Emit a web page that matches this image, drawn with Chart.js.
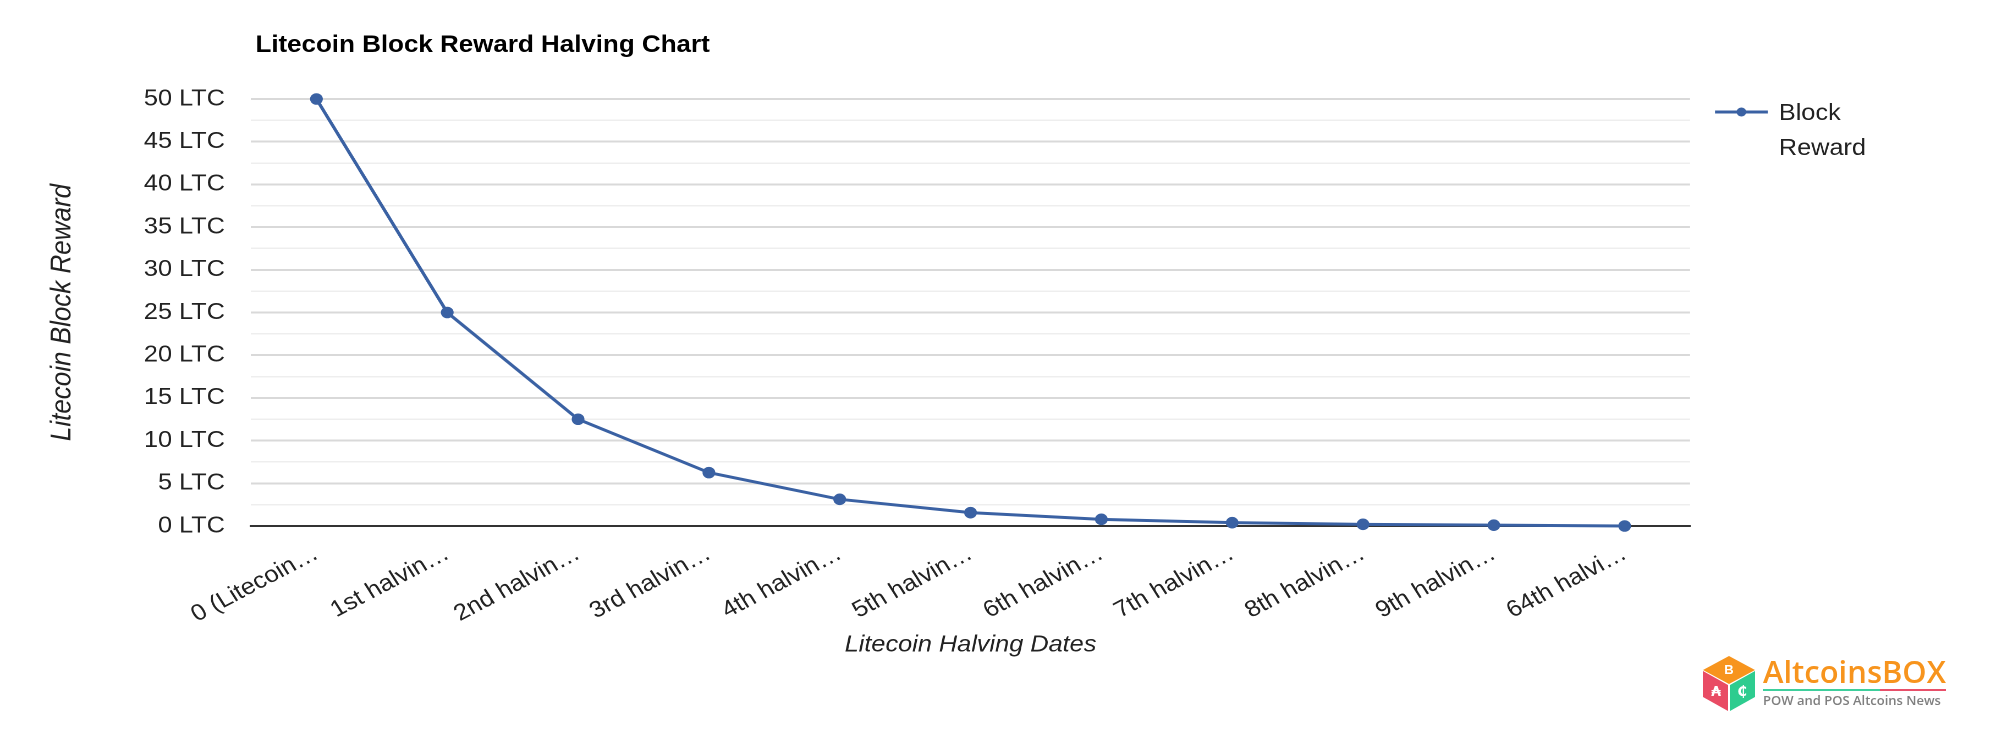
<!DOCTYPE html>
<html>
<head>
<meta charset="utf-8">
<script src="https://cdn.jsdelivr.net/npm/chart.js@4.4.1/dist/chart.umd.min.js"></script>
<style>
  html, body { margin: 0; padding: 0; background: #fff; }
  /* the source image is a little stretched sideways, so the chart is too */
  #wrap { position: absolute; left: 0; top: 0; width: 1818.18px; height: 741px; transform: scaleX(1.1); transform-origin: 0 0; }
  #logo { position: absolute; left: 1690px; top: 640px; }
</style>
</head>
<body>
<div id="wrap"><canvas id="halving"></canvas></div>
<canvas id="logo" width="270" height="90"></canvas>
<script>
const chartTitle = "Litecoin Block Reward Halving Chart";
const seriesName = "Block Reward";
const xAxisTitle = "Litecoin Halving Dates";
const yAxisTitle = "Litecoin Block Reward";

const halvings = [
  "0 (Litecoin\u2026", "1st halvin\u2026", "2nd halvin\u2026", "3rd halvin\u2026",
  "4th halvin\u2026", "5th halvin\u2026", "6th halvin\u2026", "7th halvin\u2026",
  "8th halvin\u2026", "9th halvin\u2026", "64th halvi\u2026"
];
const blockReward = [50, 25, 12.5, 6.25, 3.125, 1.5625, 0.78125, 0.390625, 0.1953125, 0.09765625, 0];
const rewardTicks = [0, 5, 10, 15, 20, 25, 30, 35, 40, 45, 50];

const lineColor = "#3a61a3";
const font = '"Liberation Sans", Arial, sans-serif';

// title top-left and a two-line legend on the right
const titleAndLegend = {
  id: "titleAndLegend",
  afterDraw(chart) {
    const ctx = chart.ctx;
    const area = chart.chartArea;
    ctx.save();
    ctx.fillStyle = "#000";
    ctx.font = "bold 23.6px " + font;
    ctx.textBaseline = "alphabetic";
    ctx.fillText(chartTitle, area.left + 4, 52);

    const ds = chart.data.datasets[0];
    const lx = area.right + 22.7;
    ctx.strokeStyle = ds.borderColor;
    ctx.lineWidth = 3;
    ctx.beginPath();
    ctx.moveTo(lx, 112);
    ctx.lineTo(lx + 48, 112);
    ctx.stroke();
    ctx.fillStyle = ds.borderColor;
    ctx.beginPath();
    ctx.arc(lx + 24, 112, 4.5, 0, Math.PI * 2);
    ctx.fill();
    ctx.fillStyle = "#222";
    ctx.font = "23px " + font;
    ds.label.split(" ").forEach((w, i) => ctx.fillText(w, lx + 58, 120 + i * 35));
    ctx.restore();
  }
};

new Chart(document.getElementById("halving"), {
  type: "line",
  data: {
    labels: halvings,
    datasets: [{
      label: seriesName,
      data: blockReward,
      borderColor: lineColor,
      backgroundColor: lineColor,
      borderWidth: 3,
      pointRadius: 4.3,
      pointHoverRadius: 4.3,
      tension: 0,
      clip: false
    }]
  },
  options: {
    responsive: true,
    maintainAspectRatio: false,
    animation: false,
    devicePixelRatio: 2,
    layout: { padding: { top: 99, right: 281.8, bottom: 0, left: 0 } },
    plugins: {
      legend: { display: false },
      title: { display: false },
      tooltip: { enabled: false }
    },
    scales: {
      x: {
        offset: true,
        grid: { display: false, drawTicks: false },
        border: { display: true, color: "#333", width: 2 },
        ticks: {
          autoSkip: false,
          maxRotation: 30,
          minRotation: 30,
          padding: 14,
          color: "#222",
          font: { family: font, size: 23 }
        },
        title: {
          display: true,
          text: xAxisTitle,
          color: "#222",
          font: { family: font, size: 23, style: "italic" },
          padding: { top: 0, bottom: 82 }
        },
        afterFit(scale) { scale.height = 215; }
      },
      y: {
        min: 0,
        max: 50,
        grid: {
          drawTicks: false,
          color: (c) => c.tick.value === 0 ? "#333" : (rewardTicks.includes(c.tick.value) ? "#d9d9d9" : "#eeeeee"),
          lineWidth: (c) => c.tick.value === 0 ? 2 : (rewardTicks.includes(c.tick.value) ? 2 : 1.5)
        },
        border: { display: false },
        ticks: {
          stepSize: 2.5,
          autoSkip: false,
          padding: 23.7,
          color: "#222",
          font: { family: font, size: 23 },
          callback: (v) => rewardTicks.includes(v) ? v + " LTC" : ""
        },
        title: {
          display: true,
          text: yAxisTitle,
          color: "#222",
          font: { family: font, size: 26, style: "italic" },
          padding: { top: 41, bottom: 0 }
        },
        afterFit(scale) { scale.width = 228.2; }
      }
    }
  },
  plugins: [titleAndLegend]
});

// site logo, bottom right
const lg = document.getElementById("logo").getContext("2d");
function face(pts, color) {
  lg.fillStyle = color;
  lg.beginPath();
  lg.moveTo(pts[0][0], pts[0][1]);
  pts.slice(1).forEach(p => lg.lineTo(p[0], p[1]));
  lg.closePath();
  lg.fill();
}
face([[39, 16], [65, 30], [39, 44], [13, 30]], "#f7941d");
face([[13, 31], [38, 45], [38, 71], [13, 57]], "#e94b64");
face([[40, 45], [65, 31], [65, 57], [40, 71]], "#2ecc8f");
lg.fillStyle = "#fff";
lg.textAlign = "center";
lg.textBaseline = "middle";
lg.font = "bold 13px " + font;
lg.fillText("B", 39, 30);
lg.font = "bold 14px 'DejaVu Sans'";
lg.fillText("\u20B3", 26, 52);
lg.fillText("\u20B5", 52, 52);
lg.textAlign = "left";
lg.textBaseline = "alphabetic";
lg.fillStyle = "#f7941d";
lg.font = "600 31px 'Open Sans', sans-serif";
lg.fillText("AltcoinsBOX", 73, 43, 183);
lg.fillStyle = "#3ecf9c";
lg.fillRect(73, 49, 117, 2);
lg.fillStyle = "#e8506a";
lg.fillRect(190, 49, 66, 2);
lg.fillStyle = "#7f7f7f";
lg.font = "600 13px 'Open Sans', sans-serif";
lg.fillText("POW and POS Altcoins News", 73, 65, 181);
</script>
</body>
</html>
